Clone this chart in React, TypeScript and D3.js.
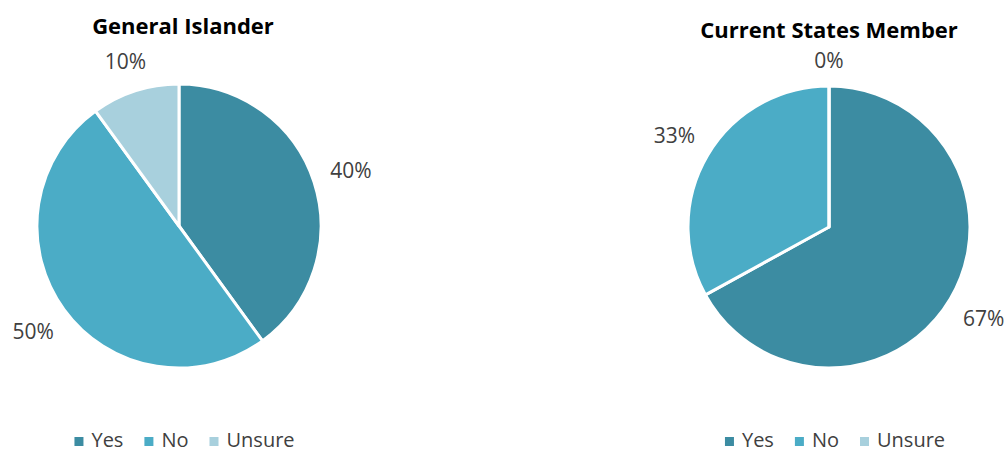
import React, { useEffect, useRef } from "react";
import * as d3 from "d3";

const categories = ["Yes", "No", "Unsure"];
const colors = ["#3C8CA2", "#4BACC6", "#A8D0DD"];
const titles = ["General Islander", "Current States Member"];
const generalValues = [40, 50, 10];
const membersValues = [67, 33, 0];
const labelTexts = [["40%", "50%", "10%"], ["67%", "33%", "0%"]];

const W = 1008;
const H = 453;

export default function App() {
  const ref = useRef<SVGSVGElement>(null);

  useEffect(() => {
    const svg = d3.select(ref.current);
    svg.selectAll("*").remove();

    const charts = [
      { cx: 179, cy: 226, r: 142, titleX: 183, titleY: 34, legendX: 184.5, values: generalValues, labels: labelTexts[0], title: titles[0] },
      { cx: 829, cy: 227, r: 141, titleX: 829, titleY: 38, legendX: 835, values: membersValues, labels: labelTexts[1], title: titles[1] },
    ];

    const pie = d3.pie<number>().sort(null).value((d) => d);

    charts.forEach((c) => {
      const g = svg.append("g");
      g.append("text")
        .attr("x", c.titleX)
        .attr("y", c.titleY)
        .attr("text-anchor", "middle")
        .attr("font-family", "'Open Sans', sans-serif")
        .attr("font-weight", "bold")
        .attr("font-size", 22)
        .attr("fill", "#000")
        .text(c.title);

      const arcs = pie(c.values);
      const arc = d3.arc<d3.PieArcDatum<number>>().innerRadius(0).outerRadius(c.r);
      const pg = g.append("g").attr("transform", `translate(${c.cx},${c.cy})`);
      pg.selectAll("path")
        .data(arcs)
        .enter()
        .append("path")
        .attr("d", arc as any)
        .attr("fill", (_d, i) => colors[i])
        .attr("stroke", "#fff")
        .attr("stroke-width", 3)
        .attr("stroke-linejoin", "round");

      arcs.forEach((a, i) => {
        const mid = (a.startAngle + a.endAngle) / 2;
        const sx = Math.sin(mid);
        const cy = -Math.cos(mid);
        const halfW = c.labels[i].length * 7;
        const halfH = 9;
        const rad = c.r + 16 + Math.abs(sx) * halfW + Math.abs(cy) * halfH;
        pg.append("text")
          .attr("x", sx * rad)
          .attr("y", cy * rad)
          .attr("dy", "0.35em")
          .attr("text-anchor", "middle")
          .attr("font-family", "'Open Sans', sans-serif")
          .attr("font-size", 21)
          .attr("fill", "#404040")
          .text(c.labels[i]);
      });

      // legend
      const lg = g.append("g");
      let x = 0;
      categories.forEach((cat, i) => {
        lg.append("rect")
          .attr("x", x)
          .attr("y", 437)
          .attr("width", 9)
          .attr("height", 9)
          .attr("fill", colors[i]);
        const t = lg
          .append("text")
          .attr("x", x + 17)
          .attr("y", 447)
          .attr("font-family", "'Open Sans', sans-serif")
          .attr("font-size", 20)
          .attr("fill", "#404040")
          .text(cat);
        const tw = (t.node() as SVGTextElement).getComputedTextLength();
        x += 17 + tw + 21;
      });
      const total = x - 21;
      lg.attr("transform", `translate(${c.legendX - total / 2},0)`);
    });
  }, []);

  return (
    <svg ref={ref} width={W} height={H} style={{ position: "absolute", left: 0, top: 0, background: "#fff" }} />
  );
}
